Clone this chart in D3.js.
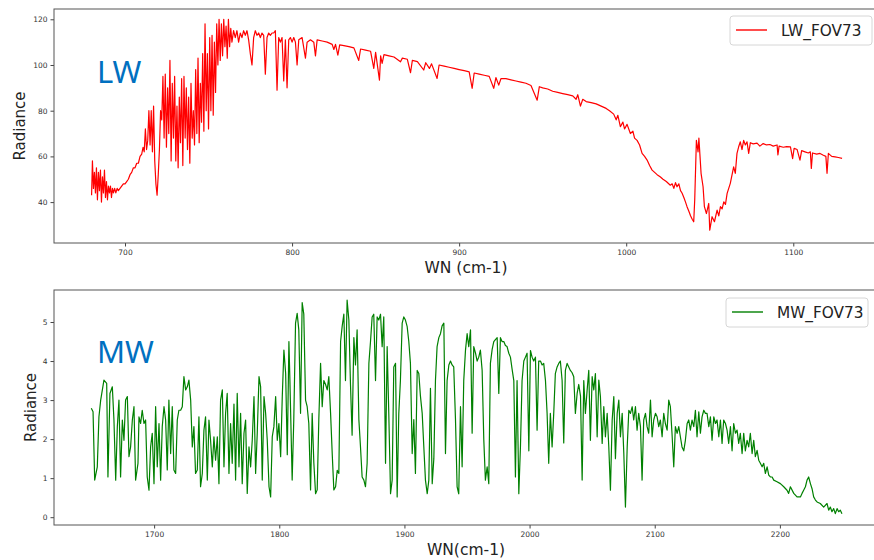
<!DOCTYPE html>
<html>
<head>
<meta charset="utf-8">
<script src="https://cdn.jsdelivr.net/npm/d3@7"></script>
<style>
  body { margin: 0; background: #fff; }
  svg { display: block; font-family: "DejaVu Sans", sans-serif; }
</style>
</head>
<body>
<div id="chart"></div>
<script>
// spectra: [wavenumber, radiance]
const lwSpectrum = [
  [680.0,43],[680.5,58],[681.1,46],[681.7,53],[682.3,44],[682.9,55],[683.5,41],[684.1,53],[684.7,45],[685.3,54],
  [685.9,40],[686.5,51],[687.1,44],[687.7,54],[688.3,42],[688.9,49],[689.5,41],[690.1,47],[690.7,44],[691.3,47],
  [691.9,42],[692.5,46],[693.1,44],[693.8,46],[694.5,44],[695.3,46],[696,45],[697,46],[698,47],[699,48],
  [700,48],[701,49],[702,50],[703,52],[704,53],[705,55],[706,55],[707,57],[708,57],[709,60],
  [710,61],[710.8,64],[711.5,62],[712.2,72],[712.9,63],[713.6,67],[714.3,80],[715,65],[715.7,80],[716.4,62],
  [717.1,82],[717.8,58],[718.5,48],[719.2,43],[719.9,52],[720.6,63],[721.3,80],[722,76],[722.7,95],[723.4,68],
  [724.1,96],[724.8,64],[725.5,90],[726.2,70],[726.9,102],[727.6,58],[728.3,92],[729,68],[729.7,95],[730.4,58],
  [731.1,82],[731.8,55],[732.5,86],[733.2,66],[733.9,94],[734.6,56],[735.3,95],[736,68],[736.7,90],[737.4,63],
  [738.1,86],[738.8,57],[739.5,92],[740.2,68],[740.9,80],[741.6,65],[742.3,98],[743,70],[743.7,103],[744.4,66],
  [745.1,92],[745.8,75],[746.5,105],[747.2,71],[747.9,118],[748.6,80],[749.3,105],[750,72],[750.7,112],[751.4,80],
  [752.1,113],[752.8,78],[753.5,110],[754.2,88],[754.9,118],[755.6,100],[756.3,120],[757,102],[757.7,118],[758.4,104],
  [759.1,120],[759.8,108],[760.5,117],[761.2,103],[761.9,120],[762.6,108],[763.3,116],[764,110],[765,115],[766,112],
  [767,115],[768,110],[769,114],[770,112],[771,115],[772,113],[773,115],[774,111],[775,105],[776,100],
  [777,112],[778,115],[779,113],[780,114],[781,112],[782,114],[783,113],[784,96],[785,112],[786,114],
  [787,113],[788,114],[789,114],[790,115],[791,89],[792,112],[793,110],[794,112],[795,93],[796,111],
  [797,90],[798,111],[799,112],[800,110],[801,112],[802,110],[803,100],[804,111],[806,112],[808,103],
  [809,110],[811,111],[813,110],[814,104],[815,111],[818,110.5],[821,110],[824,109],[825,106.8],[826,109],
  [827.4,104.3],[828.5,108.8],[831,108.5],[834,108],[837,107.5],[839.9,102],[841,107],[844,106.5],[847,106],[848.9,98.5],
  [850,105.5],[852.3,93.4],[853,104],[853.9,100.7],[855,104.5],[858,104],[861,103.5],[864.9,101.4],[866,103],[869,102.5],
  [870.9,96.6],[872,102],[875,101.5],[878.8,97.8],[880,101],[882.2,98.5],[883.5,100.5],[886.8,94.1],[888,100],[891,99.5],
  [894,99],[897,98.5],[900,98],[903,97.5],[906,97],[907.8,89.8],[909,96.5],[912,96],[915,95.5],[918,95],
  [920.7,89.8],[922,94.5],[923.7,91.2],[925,94],[928,94],[931,93.5],[934,93],[937,92.5],[940,92],[943,91],
  [946.7,84.6],[948,90.5],[950,90],[953,89.5],[956,88.5],[959,88],[962,87.5],[965,87],[968,86.5],[970,85],
  [971,87],[972.6,82],[974,85],[976,84],[979,83.5],[982,83],[985,82],[988,81],[990,80],[992.5,78.5],
  [994,76],[995,78],[996.5,73],[998,75],[999,72],[1000.5,74],[1002.5,70],[1004,71],[1005,68],[1006.5,67],
  [1008,65],[1009.5,61.3],[1011,60],[1012.5,58.4],[1014,56],[1015.5,54],[1017,53],[1018.5,52],[1020.5,51],[1022,50],
  [1024,49],[1026.4,47.4],[1027.5,48],[1028.5,46],[1029.5,48.5],[1030.4,46.7],[1031.5,48],[1032.5,45],[1033.4,44],[1034.5,42],
  [1035.5,40],[1036.4,38],[1037.5,36],[1038.5,34],[1039.5,32.5],[1040.4,31.4],[1041,40.9],[1042,67],[1043,62],[1043.5,68],
  [1044.8,52.6],[1046,46.7],[1046.8,38],[1048,35],[1049.4,39.4],[1050,27.7],[1051.4,33.6],[1052.8,31.4],[1054.4,36.5],[1055.4,34],
  [1056.4,38],[1057.4,37],[1058.4,40.1],[1059.4,39],[1060.4,43.8],[1062.3,48.2],[1064.3,55.4],[1065.3,52.6],[1066.3,61.3],[1067.3,64.2],
  [1068.3,66.4],[1069.3,63],[1070.3,67],[1071.3,65],[1072.3,66.4],[1073.3,61.3],[1074.3,66],[1076,65.5],[1078.3,65.8],[1080,64.5],
  [1082,65.6],[1084,65],[1086,65.2],[1088,64.5],[1090.3,65],[1090.8,60.6],[1091.5,64.5],[1094,64],[1096,64.3],[1098.3,64.2],
  [1099.6,59],[1100.5,63.5],[1102.3,63],[1104,58.4],[1105,62.5],[1107,62],[1109,61.5],[1110.2,62],[1110.8,54.7],[1111.5,61.5],
  [1114,61],[1116,61.3],[1118,60.5],[1119.5,60],[1120.2,52.6],[1121,61.3],[1123,60],[1125,59.8],[1127,59.5],[1129.2,59.1]
];

const mwSpectrum = [
  [1649.8,2.79],[1651.2,2.7],[1652.5,0.95],[1654.6,1.29],[1655.9,2.57],[1657.3,3.0],[1659.9,3.51],[1662.1,3.43],[1663.1,1.03],[1664.7,3.17],
  [1666.6,3.34],[1667.9,2.49],[1669.3,0.95],[1670.6,2.32],[1671.9,3.0],[1673.2,1.03],[1674.6,2.49],[1675.9,1.97],[1677.2,3.0],[1678.6,3.09],
  [1679.9,1.55],[1681.2,1.8],[1682.6,2.49],[1683.9,2.83],[1685.2,0.95],[1687.1,1.38],[1687.9,2.57],[1689.2,2.4],[1690.5,2.74],[1691.9,2.4],
  [1693.2,2.49],[1694.5,1.03],[1695.9,0.69],[1697.2,1.8],[1698.5,2.15],[1699.9,0.86],[1701.2,2.83],[1702.5,1.29],[1703.9,2.4],[1705.2,0.95],
  [1706.5,2.32],[1707.9,2.83],[1709.2,2.49],[1710.5,1.21],[1711.8,3.0],[1713.2,1.63],[1714.5,2.83],[1715.8,1.21],[1717.2,1.12],[1718.5,2.49],
  [1719.8,2.74],[1721.2,2.74],[1722.5,2.83],[1723.8,3.6],[1725.2,3.26],[1726.5,3.34],[1727.8,3.51],[1729.2,3.0],[1730.5,1.8],[1731.8,2.32],
  [1733.1,1.12],[1734.5,1.21],[1735.8,2.57],[1737.1,0.78],[1738.5,1.12],[1739.8,2.23],[1741.1,2.57],[1742.5,0.95],[1743.8,2.49],[1745.1,1.97],
  [1746.5,1.29],[1747.8,2.06],[1749.1,1.46],[1750.5,2.06],[1751.8,0.86],[1753.1,3.0],[1754.5,3.26],[1755.8,1.29],[1757.1,2.66],[1758.4,3.17],
  [1759.8,1.12],[1761.1,2.4],[1762.4,1.38],[1763.8,2.9],[1765.1,0.95],[1766.4,3.17],[1767.8,1.29],[1769.1,2.66],[1770.4,0.86],[1771.8,2.15],
  [1773.1,2.49],[1774.4,0.61],[1775.8,1.8],[1777.1,1.29],[1778.4,1.97],[1779.8,3.09],[1781.1,1.12],[1782.4,2.15],[1783.8,3.6],[1785.1,3.34],
  [1786.4,0.95],[1787.8,3.09],[1789.1,2.66],[1790.4,1.97],[1791.8,0.78],[1793.1,0.52],[1794.4,2.06],[1795.7,2.32],[1797.1,3.09],[1798.4,1.97],
  [1799.7,2.4],[1801.1,1.55],[1802.4,3.09],[1803.7,4.28],[1805.1,3.68],[1806.4,1.6],[1807.7,4.5],[1808.5,3.5],[1810.3,0.95],[1811.6,2.5],
  [1813,4.97],[1814.3,5.22],[1815.6,4.8],[1817,2.66],[1818.3,5.5],[1819.6,5.2],[1821,3.0],[1822.3,2.83],[1823.6,2.4],[1825,0.7],
  [1826.3,2.66],[1827.6,1.4],[1829,0.6],[1830.3,0.7],[1831.6,2.5],[1833,3.94],[1834.3,2.83],[1835.6,3.5],[1837,3.4],[1838.3,3.26],
  [1839.6,3.6],[1841,2.66],[1842.3,1.63],[1843.6,0.7],[1845,0.78],[1846.3,1.2],[1847.6,1.12],[1849,4.5],[1850.3,4.9],[1851.6,5.2],
  [1852.9,3.5],[1854.2,5.56],[1855.6,5.05],[1856.9,3.4],[1858.2,2.1],[1859.6,4.6],[1860.9,3.9],[1862.2,4.8],[1863.6,2.5],[1864.9,1.8],
  [1866.2,1.03],[1867.6,0.95],[1868.9,0.78],[1870.2,1.38],[1871.6,3.94],[1872.9,4.5],[1874.2,5.13],[1875.5,5.2],[1876.9,3.5],[1878.2,5.13],
  [1879.5,5.05],[1880.9,5.2],[1882.2,4.37],[1883.5,5.13],[1884.9,1.38],[1886.2,4.37],[1887.5,2.66],[1888.9,0.6],[1890.2,0.95],[1891.5,3.85],
  [1892.9,3.94],[1894.2,0.52],[1895.5,2.66],[1896.8,3.5],[1898.2,4.97],[1899.5,5.13],[1900.8,5.05],[1902.2,4.88],[1903.5,4.5],[1904.8,3.94],
  [1906.2,1.63],[1907.5,2.5],[1908.8,1.12],[1910.2,3.76],[1911.5,3.68],[1912.8,3.1],[1914.2,2.66],[1915.5,1.8],[1916.8,0.95],[1918.2,0.6],
  [1919.5,0.95],[1920.8,3.3],[1922.2,0.86],[1923.5,1.5],[1924.8,3.5],[1926.1,4.37],[1927.5,4.6],[1928.8,4.7],[1930.1,4.9],[1931.5,4.97],
  [1932.8,1.63],[1934.1,3.5],[1935.5,3.9],[1936.8,4.0],[1938.1,3.9],[1939.4,3.85],[1940.8,2.5],[1942.1,0.78],[1943.4,0.6],[1944.8,2.83],
  [1946.1,1.29],[1947.4,3.5],[1948.8,4.28],[1950.1,4.7],[1951.4,4.37],[1952.8,4.8],[1954.1,2.15],[1955.4,4.37],[1956.8,4.2],[1958.1,4.0],
  [1959.4,4.1],[1960.7,4.28],[1962.1,3.76],[1963.4,2.0],[1964.7,0.95],[1966.1,1.29],[1967.4,0.86],[1968.7,3.94],[1970.1,4.3],[1971.4,4.5],
  [1972.7,4.55],[1974.1,4.6],[1975.4,3.17],[1976.7,4.6],[1978,4.5],[1979.4,4.5],[1980.7,4.4],[1982,4.37],[1983.4,4.2],[1984.7,4.1],
  [1986,3.8],[1987.4,3.5],[1988.7,1.03],[1990,3.5],[1991.4,0.6],[1992.7,1.8],[1994,3.5],[1995.4,4.0],[1996.7,4.1],[1998,4.2],
  [1999.4,1.7],[2000.7,4.27],[2002,4.1],[2003.3,4.0],[2004.7,4.1],[2006,2.23],[2007.3,4.0],[2008.7,4.0],[2010,3.9],[2011.3,3.94],
  [2012.7,3.5],[2014,2.66],[2015.3,1.38],[2016.6,2.66],[2018,1.8],[2019.3,2.66],[2020.6,3.68],[2022,3.85],[2023.3,3.94],[2024.6,4.0],
  [2026,3.5],[2027.3,1.9],[2028.6,3.76],[2030,3.94],[2031.3,3.85],[2032.6,3.76],[2034,3.7],[2035.3,3.6],[2036.6,2.66],[2038,3.17],
  [2039.3,3.4],[2040.7,3.1],[2042,0.95],[2043.3,3.5],[2044.6,2.66],[2046,3.26],[2047.3,3.76],[2048.6,1.97],[2050,3.6],[2051.3,3.26],
  [2052.6,3.68],[2054,2.06],[2055.3,3.51],[2056.6,3.09],[2058,1.89],[2059.3,2.83],[2060.6,2.06],[2062,2.66],[2063.3,1.8],[2064.6,0.69],
  [2066,2.49],[2067.3,3.09],[2068.6,1.5],[2070,2.66],[2071.3,3.0],[2072.6,2.06],[2074,2.66],[2075.3,1.63],[2076.6,0.26],[2078,1.8],
  [2079.3,2.74],[2080.6,2.66],[2082,2.83],[2083.2,2.49],[2084.6,2.83],[2085.9,2.23],[2087.2,2.66],[2088.6,2.32],[2089.9,0.95],[2091.2,2.49],
  [2092.6,2.66],[2093.9,2.32],[2095.2,2.15],[2096.6,3.0],[2097.9,2.06],[2099.2,2.49],[2100.6,2.66],[2101.9,2.57],[2103.2,2.32],[2104.5,2.49],
  [2105.9,2.06],[2107.2,2.66],[2108.5,2.4],[2109.9,2.23],[2111.2,3.0],[2112.5,2.83],[2113.8,2.15],[2115.2,1.29],[2116.5,2.32],[2117.9,2.15],
  [2119.2,2.32],[2120.5,2.06],[2121.8,1.8],[2123.2,1.7],[2124.5,1.97],[2125.9,2.4],[2127.2,2.49],[2128.5,2.23],[2129.8,2.49],[2131.2,2.32],
  [2132.5,2.74],[2133.8,2.06],[2135.2,2.7],[2136.5,2.15],[2137.8,2.57],[2139.2,2.74],[2140.5,2.66],[2141.8,2.66],[2143.2,2.32],[2144.5,2.57],
  [2145.8,1.97],[2147.2,2.57],[2148.5,2.4],[2149.8,2.49],[2151.2,2.06],[2152.5,2.49],[2153.8,1.89],[2155.1,2.49],[2156.5,2.4],[2157.8,2.23],
  [2159.1,1.89],[2160.5,2.32],[2161.8,1.7],[2163.1,2.4],[2164.5,2.15],[2165.8,2.23],[2167.1,1.89],[2168.4,2.15],[2169.8,1.63],[2171.1,2.15],
  [2172.4,1.7],[2173.8,1.97],[2175.1,1.8],[2176.4,2.15],[2177.8,1.63],[2179.1,1.97],[2180.4,1.55],[2181.8,1.71],[2183.1,1.46],[2184.4,1.38],
  [2185.8,1.29],[2187.1,1.38],[2188.4,1.12],[2189.8,1.29],[2191.1,1.08],[2192.4,1.03],[2193.8,1.03],[2195.1,0.95],[2197.7,0.91],[2200.4,0.86],
  [2203.1,0.78],[2205.7,0.69],[2207,0.61],[2208.4,0.78],[2211.1,0.61],[2213.7,0.52],[2216.4,0.52],[2217.7,0.61],[2219,0.69],[2220.4,0.78],
  [2221.7,0.95],[2223,1.03],[2224.4,0.86],[2225.7,0.73],[2227,0.52],[2228.4,0.44],[2229.7,0.39],[2232.3,0.35],[2235,0.26],[2237.7,0.35],
  [2239,0.18],[2240.3,0.26],[2241.6,0.14],[2243,0.22],[2244.3,0.09],[2245.7,0.22],[2247,0.14],[2248.3,0.18],[2249.6,0.09]
];

// tick labels
const lwXTicks = [700, 800, 900, 1000, 1100];
const lwYTicks = [40, 60, 80, 100, 120];
const mwXTicks = [1700, 1800, 1900, 2000, 2100, 2200];
const mwYTicks = [0, 1, 2, 3, 4, 5];

const width = 874;
const height = 560;

const svg = d3.select("#chart")
  .append("svg")
  .attr("width", width)
  .attr("height", height);

function drawPanel(p) {
  const x = d3.scaleLinear().domain(p.xDomain).range([p.left, p.right]);
  const y = d3.scaleLinear().domain(p.yDomain).range([p.bottom, p.top]);
  const g = svg.append("g");

  // the spectrum
  g.append("path")
    .datum(p.data)
    .attr("fill", "none")
    .attr("stroke", p.color)
    .attr("stroke-width", 1.2)
    .attr("stroke-linejoin", "round")
    .attr("d", d3.line().x(d => x(d[0])).y(d => y(d[1])));

  const xAxis = g.append("g")
    .attr("transform", `translate(0,${p.bottom})`)
    .call(d3.axisBottom(x).tickValues(p.xTicks).tickFormat(d3.format("d")).tickSize(3.5).tickPadding(3));
  const yAxis = g.append("g")
    .attr("transform", `translate(${p.left},0)`)
    .call(d3.axisLeft(y).tickValues(p.yTicks).tickFormat(d3.format("d")).tickSize(3.5).tickPadding(3));

  [xAxis, yAxis].forEach(a => {
    a.select(".domain").remove();
    a.selectAll(".tick line").attr("stroke", "#444");
    a.selectAll(".tick text")
      .attr("fill", "#333")
      .style("font-size", "7.5px")
      .style("font-family", "DejaVu Sans");
  });

  // axes frame
  g.append("rect")
    .attr("x", p.left)
    .attr("y", p.top)
    .attr("width", p.right - p.left)
    .attr("height", p.bottom - p.top)
    .attr("fill", "none")
    .attr("stroke", "#555")
    .attr("stroke-width", 1);

  // axis labels
  g.append("text")
    .attr("transform", `translate(${p.yLabelX},${(p.top + p.bottom) / 2}) rotate(-90)`)
    .attr("text-anchor", "middle")
    .attr("fill", "#222")
    .style("font-size", "15px")
    .text("Radiance");

  g.append("text")
    .attr("x", 466)
    .attr("y", p.xLabelY)
    .attr("text-anchor", "middle")
    .attr("fill", "#222")
    .style("font-size", "15.5px")
    .text(p.xLabel);

  // band name
  g.append("text")
    .attr("x", 97)
    .attr("y", p.bandY)
    .attr("fill", "#0070c0")
    .style("font-family", "Noto Sans")
    .style("font-size", "31px")
    .text(p.band);

  // legend
  const lg = g.append("g");
  lg.append("rect")
    .attr("x", p.legend.x)
    .attr("y", p.legend.y)
    .attr("width", 142)
    .attr("height", 29)
    .attr("rx", 3)
    .attr("fill", "#fff")
    .attr("stroke", "#d6d6d6");
  lg.append("line")
    .attr("x1", p.legend.x + 6)
    .attr("x2", p.legend.x + 37)
    .attr("y1", p.legend.y + 14)
    .attr("y2", p.legend.y + 14)
    .attr("stroke", p.color)
    .attr("stroke-width", 1.4);
  lg.append("text")
    .attr("x", p.legend.x + 51)
    .attr("y", p.legend.y + 19.5)
    .attr("fill", "#222")
    .style("font-size", "15.3px")
    .text(p.name);
}

drawPanel({
  data: lwSpectrum,
  name: "LW_FOV73",
  band: "LW",
  color: "#ff0000",
  xDomain: [657.5, 1152.5],
  yDomain: [22.1, 124.5],
  xTicks: lwXTicks,
  yTicks: lwYTicks,
  left: 54, right: 881, top: 9, bottom: 243,
  yLabelX: 25,
  xLabel: "WN (cm-1)",
  xLabelY: 273,
  bandY: 83,
  legend: { x: 730, y: 16 }
});

drawPanel({
  data: mwSpectrum,
  name: "MW_FOV73",
  band: "MW",
  color: "#008000",
  xDomain: [1620, 2280],
  yDomain: [-0.2, 5.82],
  xTicks: mwXTicks,
  yTicks: mwYTicks,
  left: 54, right: 880, top: 290, bottom: 525,
  yLabelX: 36,
  xLabel: "WN(cm-1)",
  xLabelY: 555,
  bandY: 363,
  legend: { x: 726, y: 298 }
});
</script>
</body>
</html>
